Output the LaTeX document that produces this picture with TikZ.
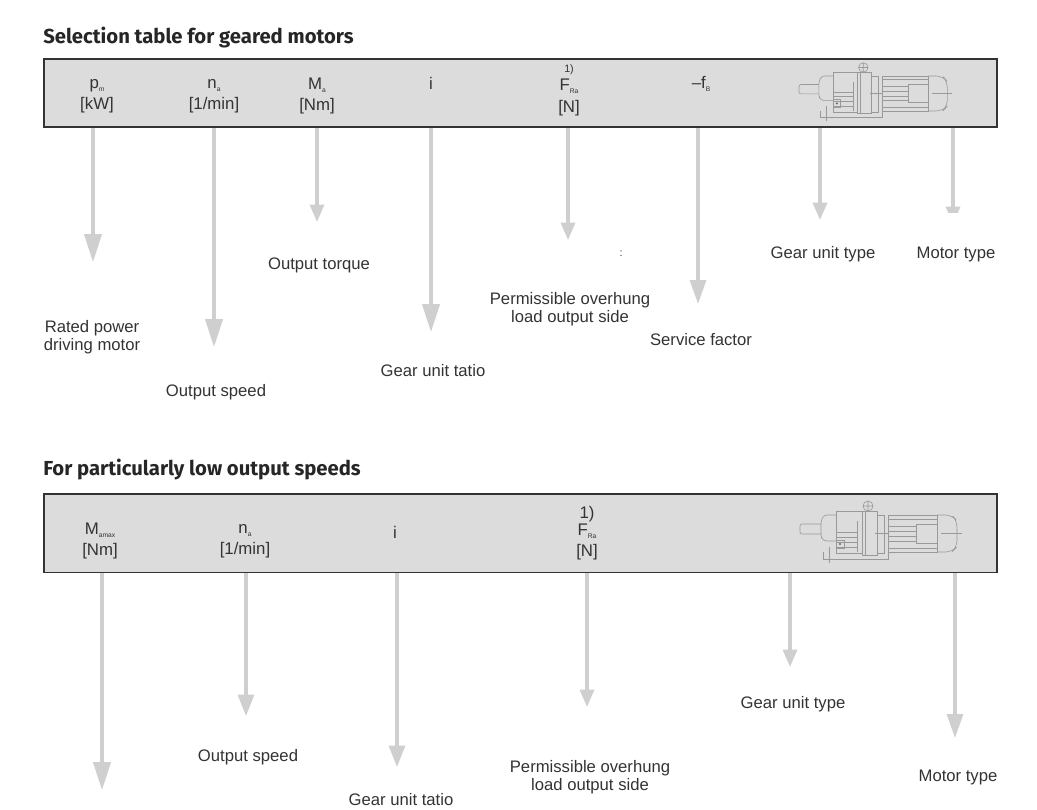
\documentclass[tikz,border=0pt]{standalone}
\usepackage{fontspec}
\setmainfont{Liberation Sans}
\newfontfamily\titlefont{Fira Sans}
\usetikzlibrary{arrows.meta,positioning}
\definecolor{bargrey}{HTML}{DCDCDC}
\definecolor{arrowgrey}{HTML}{CFCFCF}
\definecolor{inkgrey}{HTML}{333333}
\newcommand{\lowsub}[1]{\raisebox{-0.35ex}{\fontsize{5}{5}\selectfont #1}}
\tikzset{
headbar/.style={
  draw=inkgrey,
  fill=bargrey,
  line width=1.2pt,
  anchor=north west,
  minimum width=714.75pt,
  inner sep=0pt
  },
heading/.style={
  anchor=west,
  inner sep=0pt,
  text=black!85,
  font=\titlefont\bfseries\fontsize{15.2}{17}\selectfont
  },
colhead/.style={
  align=center,
  inner sep=0pt,
  text=inkgrey,
  font=\fontsize{12.6}{16}\selectfont
  },
callout/.style={
  align=center,
  inner sep=0pt,
  yshift=-1.5pt,
  text=inkgrey,
  font=\fontsize{12.5}{13.5}\selectfont
  },
flow/.style 2 args={
  draw=arrowgrey,
  line width=2.4pt,
  -{Triangle[length=#1pt,width=#2pt]}
  },
smallflow/.style={flow={13}{10.5}},
bigflow/.style={flow={21}{13}},
gearmotor/.pic={
  \begin{scope}[draw=black!40,line width=0.45pt]
  \draw[rounded corners=1.5pt] (21,-9) -- (0,-9) -- (0,1) -- (21,1);
  \draw[rounded corners=2pt] (36,-18) -- (24,-18) -- (21,-12) -- (21,4) -- (24,8) -- (36,8);
  \draw (36,-22) -- (36,20) (36,-22) -- (62,-22) (36,20) -- (62,20);
  \draw (62,-22) rectangle (77,22);
  \draw (65,-22) -- (65,22);
  \draw (68,-27) circle (5) (63,-27) -- (73,-27) (68,-32) -- (68,-22);
  \draw (23,19) -- (23,26) -- (88,26) -- (88,19);
  \draw (29,14) -- (29,30);
  \draw (77,-18) rectangle (84,20);
  \draw (88,-18) rectangle (137,19);
  \draw (88,-14) -- (137,-14) (88,15) -- (137,15);
  \draw (89,-7) -- (116,-7) (89,-2) -- (116,-2) (89,3) -- (116,3) (89,8) -- (116,8);
  \draw (116,-9) rectangle (137,10);
  \draw[rounded corners=5pt] (137,-18) -- (152,-18) -- (157,-12) -- (157,14) -- (152,19) -- (137,19);
  \draw (75,0) -- (88,0) (141,0) -- (162,0);
  \draw (37,-1) -- (57,-1) (37,4) -- (57,4) (37,9) -- (57,9) (37,14) -- (57,14);
  \draw (57,-12) -- (57,19);
  \draw (36,7) rectangle (44,15);
  \fill[black!60] (40,11) circle (1.2);
  \end{scope}
  }
}
\begin{document}
\begin{tikzpicture}[x=0.75pt,y=-0.75pt]
\useasboundingbox (0,0) rectangle (1037,809);

\node[heading] (title1) at (43,38) {Selection table for geared motors};
\node[headbar,minimum height=51pt] (bar1) at (43,58) {};

\node[colhead] (pm) at (97,96) {p\lowsub{m}\\{[kW]}};
\node[colhead] (na1) at (214,96) {n\lowsub{a}\\{[1/min]}};
\node[colhead] (ma) at (317,96) {M\lowsub{a}\\{[Nm]}};
\node[colhead] (i1) at (431,83) {i};
\node[colhead] (fra1) at (569,90) {\fontsize{8}{8}\selectfont 1)\\[-2pt]\fontsize{12.6}{16}\selectfont F\lowsub{Ra}\\{[N]}};
\node[colhead] (fb) at (701,84) {--f\lowsub{B}};
\pic at (799,93) [scale=0.945] {gearmotor};

\coordinate (t1) at (93,262);
\coordinate (t2) at (214,347);
\coordinate (t3) at (317,222);
\coordinate (t4) at (431,332);
\coordinate (t5) at (568,240);
\coordinate (t6) at (698,304);
\coordinate (t7) at (820,220);
\coordinate (t8) at (953,213);

\draw[bigflow] (bar1.south -| t1) to (t1);
\draw[bigflow] (bar1.south -| t2) to (t2);
\draw[smallflow] (bar1.south -| t3) to (t3);
\draw[bigflow] (bar1.south -| t4) to (t4);
\draw[smallflow] (bar1.south -| t5) to (t5);
\draw[flow={18}{12}] (bar1.south -| t6) to (t6);
\draw[smallflow] (bar1.south -| t7) to (t7);
\begin{scope}
\clip (930,120) rectangle (975,213);
\draw[smallflow] (bar1.south -| t8) to ([yshift=-8.25pt]t8);
\end{scope}

\node[callout] (rated) at (92,335) {Rated power\\driving motor};
\node[callout] (speed1) at (216,390) {Output speed};
\node[callout] (torque) at (319,263) {Output torque};
\node[callout] (ratio1) at (433,369) {Gear unit tatio};
\node[callout] (load1) at (570,307) {Permissible overhung\\load output side};
\node[callout] (service) at (701,338) {Service factor};
\node[callout] (gear1) at (823,252) {Gear unit type};
\node[callout] (motor1) at (956,252) {Motor type};
\node[callout] (dots) at (621,252) {\fontsize{8}{8}\selectfont :};

\node[heading] (title2) at (43,470) {For particularly low output speeds};
\node[headbar,minimum height=59pt] (bar2) at (43,493) {};

\node[colhead] (mamax) at (100,541) {M\lowsub{amax}\\{[Nm]}};
\node[colhead] (na2) at (245,541) {n\lowsub{a}\\{[1/min]}};
\node[colhead] (i2) at (395,532) {i};
\node[colhead] (fra2) at (587,533) {1)\\[-3pt]F\lowsub{Ra}\\{[N]}};
\pic at (800,533) {gearmotor};

\coordinate (b1) at (102,790);
\coordinate (b2) at (246,716);
\coordinate (b3) at (397,767);
\coordinate (b4) at (587,707);
\coordinate (b5) at (790,667);
\coordinate (b6) at (955,738);

\draw[bigflow] (bar2.south -| b1) to (b1);
\draw[flow={16}{12}] (bar2.south -| b2) to (b2);
\draw[flow={16}{12}] (bar2.south -| b3) to (b3);
\draw[smallflow] (bar2.south -| b4) to (b4);
\draw[smallflow] (bar2.south -| b5) to (b5);
\draw[flow={18}{12}] (bar2.south -| b6) to (b6);

\node[callout] (speed2) at (248,755) {Output speed};
\node[callout] (ratio2) at (401,798) {Gear unit tatio};
\node[callout] (load2) at (590,775) {Permissible overhung\\load output side};
\node[callout] (gear2) at (793,702) {Gear unit type};
\node[callout] (motor2) at (958,775) {Motor type};
\end{tikzpicture}
\end{document}
